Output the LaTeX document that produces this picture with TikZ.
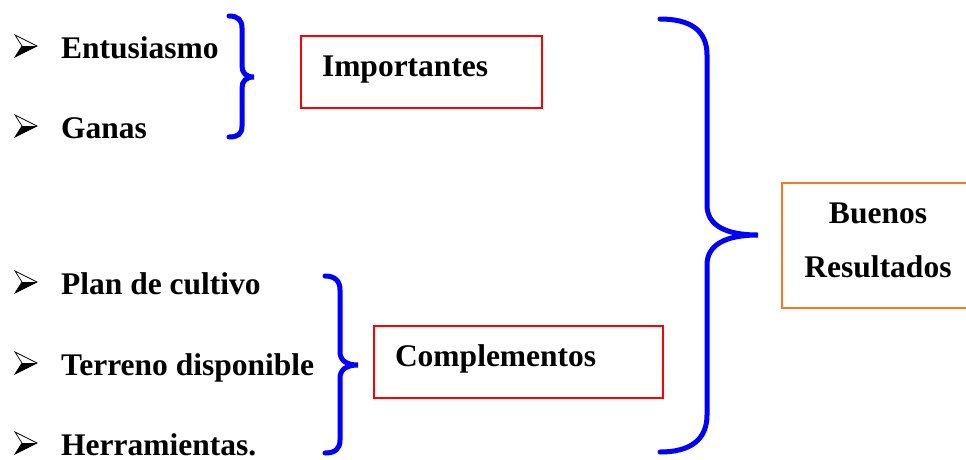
\documentclass[tikz,border=0pt]{standalone}
\usepackage{fontspec}
\setmainfont{Liberation Serif}
\usepackage{xcolor}
\usepackage{tikz}
\usetikzlibrary{positioning}

\definecolor{naranja}{RGB}{250,120,40}

\tikzset{
  letra/.style={font=\fontsize{31.5}{54}\selectfont\bfseries},
  item/.style={letra, anchor=base west, inner sep=0pt},
  caja/.style={letra, draw=red, line width=2pt, anchor=north west, minimum height=72pt,
    inner xsep=21pt, align=left, text height=22pt, text depth=14pt},
  llave/.style={blue, line width=5pt, line cap=round},
  vineta/.pic={
    \fill[black] (7,0) -- (22,0) -- (0,11) -- cycle;
    \draw[line width=0.7pt] (0,-11) -- (22,0) -- (0,11) -- (7,0) -- cycle;
  }
}

\begin{document}
\begin{tikzpicture}[x=1pt, y=-1pt]
        \useasboundingbox (0,0) rectangle (966,459);

        % Items
        \pic at (15,46) {vineta};
        \node[item] (entusiasmo) at (61,58) {Entusiasmo};
        \pic at (15,126) {vineta};
        \node[item] (ganas) at (61,138) {Ganas};
        \pic at (15,282) {vineta};
        \node[item] (plan) at (61,294) {Plan de cultivo};
        \pic at (15,363) {vineta};
        \node[item] (terreno) at (61,375) {Terreno disponible};
        \pic at (15,443) {vineta};
        \node[item] (herramientas) at (61,455) {Herramientas.};

        % Small braces
        \draw[llave] (229,16) .. controls (238,16) and (242,20) .. (242,28) -- (242,66)
            .. controls (242,73) and (246,77) .. (254,77)
            .. controls (246,77) and (242,81) .. (242,88) -- (242,126)
            .. controls (242,134) and (238,137) .. (229,137);
        \draw[llave] (325,276) .. controls (335,276) and (340,281) .. (340,290) -- (340,352)
            .. controls (340,360) and (346,365) .. (358,365)
            .. controls (346,365) and (340,370) .. (340,378) -- (340,440)
            .. controls (340,449) and (335,453) .. (325,453);

        % Boxes
        \node[caja, text width=199pt] (importantes) at (300,35) {Importantes};
        \node[caja, text width=247pt] (complementos) at (373,325) {Complementos};

        % Big brace
        \draw[llave] (660,19) .. controls (690,19) and (707,30) .. (707,55) -- (707,205)
            .. controls (707,225) and (725,235) .. (758,235)
            .. controls (725,235) and (707,245) .. (707,265) -- (707,415)
            .. controls (707,440) and (690,452) .. (660,452);

        % Result
        \node[letra, draw=naranja, line width=2pt, anchor=north west, minimum width=192pt,
            minimum height=125pt, align=center, text depth=10pt] (resultados) at (781,182) {Buenos\\Resultados};
    \end{tikzpicture}
\end{document}
